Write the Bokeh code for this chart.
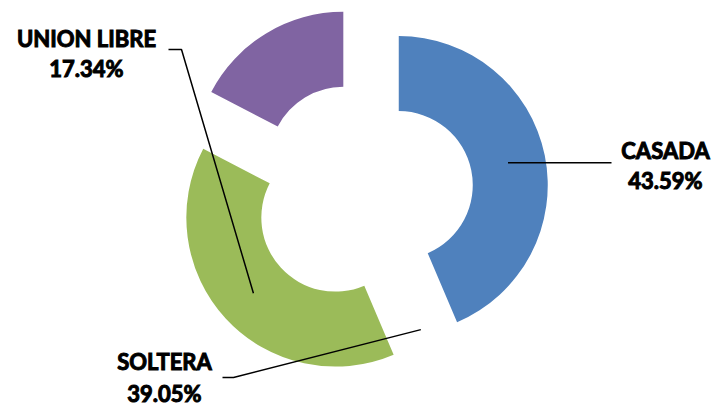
import math
from bokeh.plotting import figure
from bokeh.models import ColumnDataSource
from bokeh.embed import file_html
from bokeh.resources import INLINE
from bokeh.core.properties import value

# ---- data ----
categories = ["CASADA", "SOLTERA", "UNION LIBRE"]
percentages = [43.59, 39.05, 17.34]
pct_labels = ["43.59%", "39.05%", "17.34%"]
colors = ["#4F81BD", "#9BBB59", "#8064A2"]

# ---- layout (screen pixels, y down) ----
W, H = 716, 409
CX, CY = 362, 192
R_OUT, R_IN = 149, 74
EXPLODE = 37
R_MID = (R_OUT + R_IN) / 2

# label anchors (centre of name line, centre of pct line) and elbow points
label_name_pos = {"CASADA": (665, 150), "SOLTERA": (164, 361), "UNION LIBRE": (86, 38)}
label_pct_pos = {"CASADA": (665, 180), "SOLTERA": (164, 393), "UNION LIBRE": (86, 68)}
leader_end = {"SOLTERA": [(233, 377), (222, 377)],
              "UNION LIBRE": [(181, 49), (168, 49)]}
CASADA_LEADER_END_X = 611

total = sum(percentages)
theta_start, theta_end = [], []
acc = 0.0
for v in percentages:
    theta_start.append(acc / total * 2 * math.pi)
    acc += v
    theta_end.append(acc / total * 2 * math.pi)
theta_mid = [(a + b) / 2 for a, b in zip(theta_start, theta_end)]


def sx_sy(cx, cy, r, th):
    """screen point at clock angle th (from top, clockwise)"""
    return cx + r * math.sin(th), cy - r * math.cos(th)


centers = [sx_sy(CX, CY, EXPLODE, t) for t in theta_mid]

src = ColumnDataSource(dict(
    x=[c[0] for c in centers],
    y=[H - c[1] for c in centers],
    start=[math.pi / 2 - t for t in theta_start],
    end=[math.pi / 2 - t for t in theta_end],
    color=colors,
))

p = figure(width=W, height=H, x_range=(0, W), y_range=(0, H),
           output_backend="svg", toolbar_location=None,
           x_axis_type=None, y_axis_type=None,
           min_border=0, min_border_left=0, min_border_right=0,
           min_border_top=0, min_border_bottom=0)
p.outline_line_color = None
p.grid.visible = False
p.background_fill_color = "white"
p.border_fill_color = "white"

p.annular_wedge(x="x", y="y", inner_radius=R_IN, outer_radius=R_OUT,
                start_angle="start", end_angle="end", direction="clock",
                fill_color="color", line_color=None, source=src)

# leader lines
lines_x, lines_y = [], []
# CASADA: from its own ring middle, horizontal
bx, by = sx_sy(centers[0][0], centers[0][1], R_MID, theta_mid[0])
lines_x.append([bx, CASADA_LEADER_END_X]); lines_y.append([H - by, H - by])
# SOLTERA: from outer point at blue/green boundary of the un-exploded ring
sx0, sy0 = sx_sy(CX, CY, R_OUT, theta_start[1])
pts = [(sx0, sy0)] + leader_end["SOLTERA"]
lines_x.append([q[0] for q in pts]); lines_y.append([H - q[1] for q in pts])
# UNION LIBRE: leader drawn to the ring middle of the green slice
gx, gy = sx_sy(centers[1][0], centers[1][1], R_MID, theta_mid[1])
pts = [(gx, gy)] + leader_end["UNION LIBRE"]
lines_x.append([q[0] for q in pts]); lines_y.append([H - q[1] for q in pts])

p.multi_line(xs=lines_x, ys=lines_y, line_color="black", line_width=1.5)

# labels
for c, pl in zip(categories, pct_labels):
    nx, ny = label_name_pos[c]
    px, py = label_pct_pos[c]
    p.text(x=[nx, px], y=[H - ny, H - py], text=[c, pl],
           text_font=value("Lato"), text_font_style="bold",
           text_font_size="22px", text_color="black",
           text_outline_color="black",
           text_align="center", text_baseline="middle")

open("out.html", "w").write(file_html(p, INLINE))
